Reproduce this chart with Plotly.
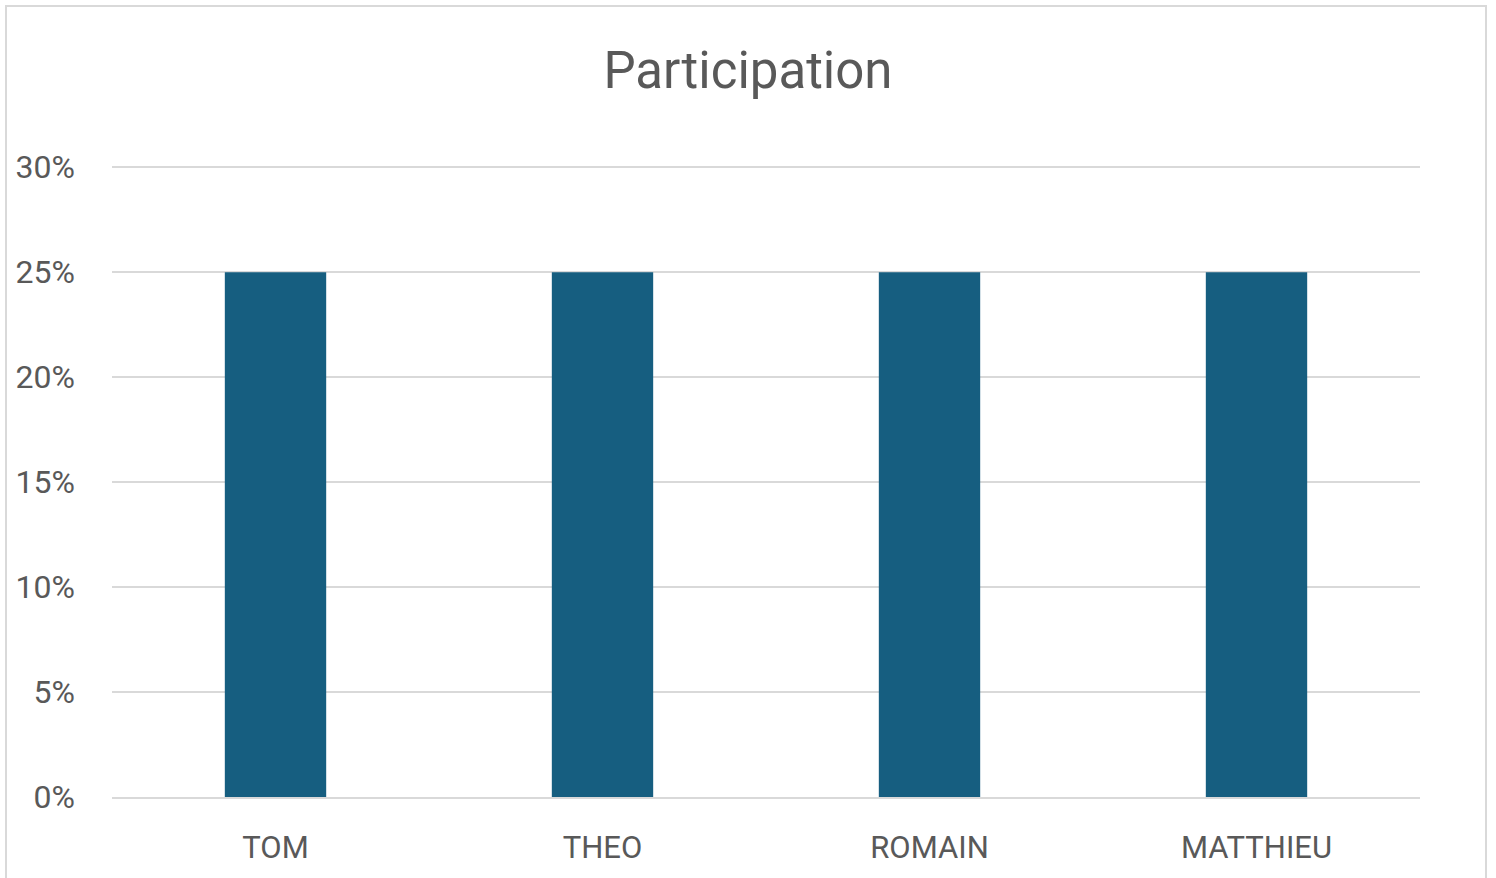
import plotly.graph_objects as go

categories = ["TOM", "THEO", "ROMAIN", "MATTHIEU"]
participation = [0.25, 0.25, 0.25, 0.25]
tick_vals = [0, 0.05, 0.10, 0.15, 0.20, 0.25, 0.30]
tick_text = ["0%", "5%", "10%", "15%", "20%", "25%", "30%"]

W, H = 1496, 878
y_top = 0.302
L, R, B = 112, 76, 74
T = 167 - (800 - 167) * (y_top - 0.30) / 0.30
pw, ph = W - L - R, H - T - B

def px(x):
    return (x - L) / pw

def py(y):
    return (H - B - y) / ph

fig = go.Figure()
fig.add_trace(go.Bar(
    x=categories, y=participation,
    marker=dict(color="#165E80", line=dict(width=0)),
    width=0.31,
))

font_family = "Roboto, Noto Sans, sans-serif"
fig.update_layout(
    width=W, height=H,
    margin=dict(l=L, r=R, t=T, b=B),
    paper_bgcolor="white", plot_bgcolor="white",
    showlegend=False,
    title=dict(text="Participation", x=0.5, xanchor="center",
               y=1 - 70 / H, yanchor="middle",
               font=dict(family=font_family, size=51, color="#595959")),
    font=dict(family=font_family, color="#595959"),
)
fig.update_yaxes(
    range=[0, y_top], tickvals=tick_vals, ticktext=tick_text,
    showgrid=True, gridcolor="#D9D9D9", gridwidth=2,
    zeroline=False, showline=False,
    tickfont=dict(size=32, color="#595959"),
    ticklabelstandoff=36,
)
fig.update_xaxes(
    showgrid=False, zeroline=False, showline=True,
    linecolor="#D9D9D9", linewidth=2,
    tickfont=dict(size=31, color="#595959"),
    ticklabelstandoff=22,
)
# chart border
fig.add_shape(type="rect", xref="paper", yref="paper",
              x0=px(6), x1=px(1486), y0=py(4), y1=py(890),
              line=dict(color="#D9D9D9", width=2), layer="below")

fig.write_html("out.html")
